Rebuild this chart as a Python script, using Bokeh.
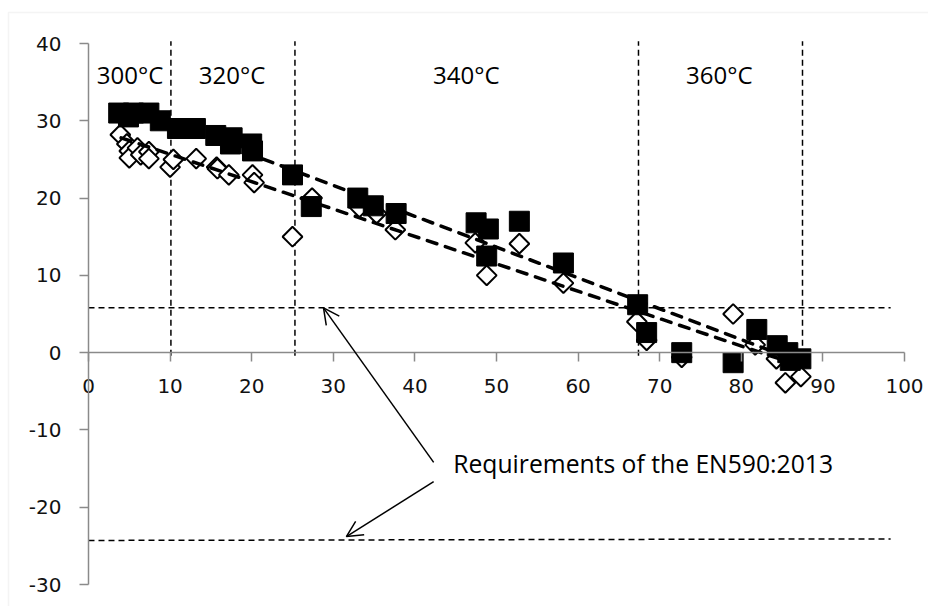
import numpy as np
from bokeh.plotting import figure
from bokeh.models import Range1d, Label, Arrow, OpenHead, FixedTicker, BoxAnnotation
from bokeh.embed import file_html
from bokeh.resources import INLINE

# ---- data ----
sq_x = [3.7, 5.5, 7.4, 4.9, 8.8, 10.9, 13.1, 15.6, 17.6, 17.4, 20.0, 20.1,
        25.0, 27.3, 33.0, 34.9, 37.7, 47.5, 49.0, 52.8, 48.8, 58.2,
        67.3, 68.4, 72.7, 79.0, 81.9, 84.4, 85.7, 87.3, 86.0]
sq_y = [31.0, 31.0, 31.0, 30.5, 30.0, 29.0, 29.0, 28.1, 27.8, 27.0, 27.0, 26.1,
        23.0, 18.9, 20.0, 19.0, 18.0, 16.8, 16.0, 17.0, 12.5, 11.6,
        6.2, 2.6, 0.0, -1.3, 3.0, 0.9, 0.0, -0.8, -1.0]

dm_x = [3.9, 4.7, 5.0, 5.0, 6.0, 6.4, 7.4, 7.4,
        10.0, 10.4, 13.2, 15.7, 15.8, 17.2, 20.1, 20.3,
        25.0, 27.4, 33.2, 35.3, 37.6,
        47.4, 48.8, 52.8, 58.2,
        67.2, 68.4, 72.7, 79.0, 81.7, 84.3, 85.4, 87.3]
dm_y = [28.2, 27.0, 26.1, 25.2, 26.5, 25.6, 26.0, 25.1,
        24.0, 25.0, 25.1, 24.0, 23.8, 23.0, 23.0, 22.0,
        15.0, 20.0, 18.8, 18.0, 15.9,
        14.2, 10.0, 14.1, 9.0,
        4.0, 1.6, -0.6, 5.0, 1.0, -0.8, -3.9, -3.1]

trend_x = [4.0, 87.5]
trend_sq_y = [32.0, -1.3]
trend_dm_y = [27.8, -1.8]

temp_sep_x = [10.1, 25.3, 67.4, 87.5]
temp_sep_y = [-0.4, 40.3]
limit_x = [0.0, 98.3]
limit_hi_y = [5.8, 5.8]
limit_lo_y = [-24.3, -24.1]

temp_labels = ["300°C", "320°C", "340°C", "360°C"]
temp_label_x = [5.1, 17.6, 46.3, 77.3]
temp_label_y = 36.0

x_ticks = list(range(0, 101, 10))
y_ticks = list(range(-30, 41, 10))

note_text = "Requirements of the EN590:2013"

# ---- layout: the frame fills the canvas; axes sit at x=0 / y=0 ----
W, H = 928, 606
ax_left, ax_right, ax_top, ax_bottom = 88, 904, 43, 584   # pixel positions of the axis extents
sx = (ax_right - ax_left) / 100.0
sy = (ax_bottom - ax_top) / 70.0
x_range = Range1d(0 - ax_left / sx, 100 + (W - ax_right) / sx)
y_range = Range1d(-30 - (H - ax_bottom) / sy, 40 + ax_top / sy)

p = figure(width=W, height=H, x_range=x_range, y_range=y_range,
           output_backend="svg", toolbar_location=None,
           min_border_left=0, min_border_right=0, min_border_top=0, min_border_bottom=0)
p.grid.visible = False
p.outline_line_color = None
p.background_fill_color = "white"
p.border_fill_color = "white"

for ax in (p.xaxis, p.yaxis):
    ax.axis_line_color = "#8a8a8a"
    ax.axis_line_width = 1.5
    ax.major_tick_line_color = "#8a8a8a"
    ax.major_tick_line_width = 1.5
    ax.major_tick_out = 9
    ax.major_tick_in = 0
    ax.minor_tick_out = 0
    ax.minor_tick_in = 0
    ax.major_label_text_font = "DejaVu Sans"
    ax.major_label_text_font_size = "20px"
    ax.major_label_text_color = "#111111"

p.xaxis.ticker = FixedTicker(ticks=x_ticks)
p.yaxis.ticker = FixedTicker(ticks=y_ticks)
p.xaxis.fixed_location = 0
p.yaxis.fixed_location = 0
p.xaxis.bounds = (0, 100)
p.yaxis.bounds = (-30, 40)
p.xaxis.major_label_standoff = 17
p.yaxis.major_label_standoff = 18
p.yaxis.major_label_overrides = {t: str(t) for t in y_ticks}
p.xaxis.major_label_overrides = {t: str(t) for t in x_ticks}

# chart-area border (light grey)
p.add_layout(BoxAnnotation(left=x_range.start + 8 / sx, top=y_range.end - 12 / sy,
                           right=x_range.end + 50, bottom=y_range.start - 50,
                           fill_alpha=0, line_color="#d9d9d9", line_width=1.5))

# reference lines
for xv in temp_sep_x:
    p.line([xv, xv], temp_sep_y, line_color="black", line_width=1.5, line_dash="6 4")
p.line(limit_x, limit_hi_y, line_color="black", line_width=1.5, line_dash="6 4")
p.line(limit_x, limit_lo_y, line_color="black", line_width=1.5, line_dash="6 4")

# markers
p.scatter(dm_x, dm_y, marker="square", angle=np.pi / 4, size=14,
          fill_color="white", line_color="black", line_width=2)
p.scatter(sq_x, sq_y, marker="square", size=20,
          fill_color="black", line_color="black", line_width=1)

# trend lines
p.line(trend_x, trend_sq_y, line_color="black", line_width=3.5, line_dash="10 9", line_cap="round")
p.line(trend_x, trend_dm_y, line_color="black", line_width=3.5, line_dash="10 9", line_cap="round")

# temperature labels
for t, tx in zip(temp_labels, temp_label_x):
    p.add_layout(Label(x=tx, y=temp_label_y, text=t, text_align="center",
                       text_baseline="middle", text_font="Open Sans",
                       text_font_size="24px", text_color="black"))

# annotation and arrows
p.add_layout(Label(x=44.7, y=-14.4, text=note_text, text_align="left",
                   text_baseline="middle", text_font="Open Sans",
                   text_font_size="24.7px", text_color="black"))
p.add_layout(Arrow(x_start=42.3, y_start=-14.2, x_end=28.8, y_end=5.8,
                   line_color="black", line_width=1.5,
                   end=OpenHead(size=16, line_color="black", line_width=1.5)))
p.add_layout(Arrow(x_start=42.3, y_start=-16.7, x_end=31.6, y_end=-23.8,
                   line_color="black", line_width=1.5,
                   end=OpenHead(size=16, line_color="black", line_width=1.5)))

open("out.html", "w").write(file_html(p, INLINE))
